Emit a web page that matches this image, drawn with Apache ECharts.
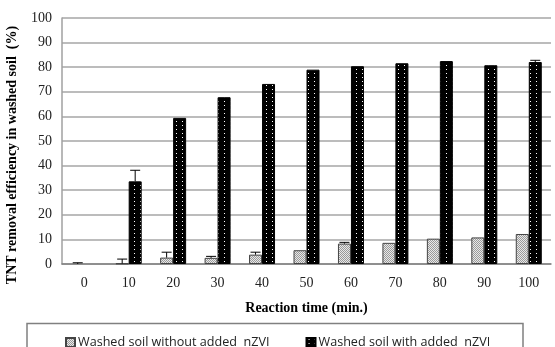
<!DOCTYPE html>
<html>
<head>
<meta charset="utf-8">
<script src="https://cdn.jsdelivr.net/npm/echarts@6/dist/echarts.min.js"></script>
<style>
  html, body { margin: 0; padding: 0; background: #fff; }
  #chart { width: 555px; height: 347px; }
</style>
</head>
<body>
<div id="chart"></div>
<script>
// Reaction times (min.)
const categories = ['0', '10', '20', '30', '40', '50', '60', '70', '80', '90', '100'];
// TNT removal efficiency (%)
const withoutNZVI = [0, 0.2, 2.6, 2.5, 3.8, 5.6, 8.3, 8.6, 10.3, 10.8, 12.2];
const withNZVI = [0, 33.6, 59.4, 67.8, 73.2, 79.0, 80.4, 81.6, 82.5, 80.8, 82.1];
// Upper error amounts
const errWithout = [0.5, 1.8, 2.2, 0.6, 1.0, 0, 0.5, 0, 0, 0, 0];
const errWith = [0, 4.5, 0, 0, 0, 0, 0, 0, 0, 0, 0.7];
const yTicks = [0, 10, 20, 30, 40, 50, 60, 70, 80, 90, 100];

const seriesNames = ['Washed soil without added  nZVI', 'Washed soil with added  nZVI'];

// Stippled fills for the bars
function makePattern(w, h, base, dot, dots) {
  const c = document.createElement('canvas');
  c.width = w; c.height = h;
  const ctx = c.getContext('2d');
  ctx.fillStyle = base;
  ctx.fillRect(0, 0, w, h);
  ctx.fillStyle = dot;
  dots.forEach(d => ctx.fillRect(d[0], d[1], 1, 1));
  return { image: c, repeat: 'repeat' };
}
const lightFill = makePattern(2, 2, '#e8e8e8', '#9a9a9a', [[0, 0], [1, 1]]);
const darkFill = makePattern(6, 4, '#000000', '#ffffff', [[2, 1]]);

const BAR_W = 13;

// Zero-height bars are left undrawn
function barData(values, border) {
  return values.map(v => v === 0
    ? { value: v, itemStyle: { borderWidth: 0, opacity: 0 } }
    : v);
}

function errorSeries(values, errs, offset) {
  return {
    type: 'custom',
    silent: true,
    z: 5,
    data: values.map((v, i) => [i, v, v + errs[i]]),
    renderItem: function (params, api) {
      if (api.value(2) - api.value(1) <= 0) return null;
      const lo = api.coord([api.value(0), api.value(1)]);
      const hi = api.coord([api.value(0), api.value(2)]);
      const x = lo[0] + offset;
      const cap = 5;
      const style = { stroke: '#000', lineWidth: 1 };
      return {
        type: 'group',
        children: [
          { type: 'line', shape: { x1: x, y1: lo[1], x2: x, y2: hi[1] }, style: style },
          { type: 'line', shape: { x1: x - cap, y1: hi[1], x2: x + cap, y2: hi[1] }, style: style }
        ]
      };
    }
  };
}

const chart = echarts.init(document.getElementById('chart'), null, { renderer: 'canvas' });
chart.setOption({
  animation: false,
  backgroundColor: '#ffffff',
  grid: { left: 62, right: 4, top: 18, bottom: 83, containLabel: false },
  legend: {
    left: 60,
    top: 331,
    itemGap: 36,
    itemWidth: 9,
    itemHeight: 9,
    icon: 'rect',
    textStyle: { fontFamily: 'Open Sans', fontSize: 12.6, color: '#222', padding: [0, 0, 0, -2] },
    data: seriesNames
  },
  xAxis: {
    type: 'category',
    data: categories,
    name: 'Reaction time (min.)',
    nameLocation: 'middle',
    nameGap: 37,
    nameTextStyle: { fontFamily: 'Liberation Serif', fontSize: 14, fontWeight: 'bold', color: '#000' },
    axisLine: { lineStyle: { color: '#808080', width: 1.5 } },
    axisTick: { show: false },
    axisLabel: { fontFamily: 'Liberation Serif', fontSize: 14, color: '#222', margin: 12 },
    splitLine: { show: false }
  },
  yAxis: {
    type: 'value',
    min: yTicks[0],
    max: yTicks[yTicks.length - 1],
    interval: 10,
    axisLine: { show: true, lineStyle: { color: '#a0a0a0', width: 1.5 } },
    axisTick: { show: false },
    axisLabel: { fontFamily: 'Liberation Serif', fontSize: 14, color: '#222', margin: 10 },
    splitLine: { lineStyle: { color: '#a6a6a6', width: 1.5 } }
  },
  graphic: [
    {
      type: 'rect',
      shape: { x: 27, y: 323.5, width: 496, height: 40 },
      style: { fill: 'none', stroke: '#808080', lineWidth: 1.5 },
      silent: true
    },
    {
      type: 'text',
      x: 12,
      y: 155,
      rotation: Math.PI / 2,
      style: {
        text: 'TNT removal efficiency in washed soil  (%)',
        font: 'bold 14px "Liberation Serif"',
        fill: '#000',
        align: 'center',
        verticalAlign: 'middle'
      }
    }
  ],
  series: [
    {
      name: seriesNames[0],
      type: 'bar',
      data: barData(withoutNZVI),
      barWidth: BAR_W,
      barGap: '0%',
      itemStyle: { color: lightFill, borderColor: '#444', borderWidth: 1 }
    },
    {
      name: seriesNames[1],
      type: 'bar',
      data: barData(withNZVI),
      barWidth: BAR_W,
      barGap: '0%',
      itemStyle: { color: darkFill, borderColor: '#000', borderWidth: 1 }
    },
    errorSeries(withoutNZVI, errWithout, -BAR_W / 2),
    errorSeries(withNZVI, errWith, BAR_W / 2)
  ]
});
</script>
</body>
</html>
